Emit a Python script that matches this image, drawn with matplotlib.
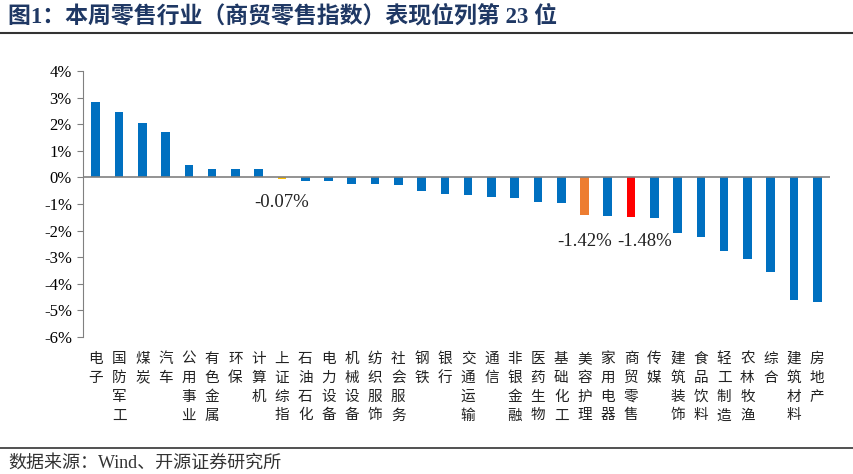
import matplotlib.pyplot as plt
import numpy as np

plt.rcParams['font.family'] = ['Liberation Serif', 'Noto Sans CJK SC']

industries = ["电子", "国防军工", "煤炭", "汽车", "公用事业", "有色金属", "环保", "计算机",
              "上证综指", "石油石化", "电力设备", "机械设备", "纺织服饰", "社会服务", "钢铁", "银行",
              "交通运输", "通信", "非银金融", "医药生物", "基础化工", "美容护理", "家用电器", "商贸零售",
              "传媒", "建筑装饰", "食品饮料", "轻工制造", "农林牧渔", "综合", "建筑材料", "房地产"]
returns = [2.85, 2.44, 2.03, 1.71, 0.45, 0.32, 0.32, 0.32,
           -0.07, -0.15, -0.15, -0.23, -0.25, -0.27, -0.53, -0.63,
           -0.66, -0.74, -0.78, -0.94, -0.98, -1.42, -1.46, -1.48,
           -1.52, -2.08, -2.25, -2.76, -3.06, -3.56, -4.60, -4.68]
labeled = {"上证综指": "-0.07%", "美容护理": "-1.42%", "商贸零售": "-1.48%"}

colors = []
for name in industries:
    if name == "上证综指":
        colors.append("#FFC000")
    elif name == "美容护理":
        colors.append("#ED7D31")
    elif name == "商贸零售":
        colors.append("#FF0000")
    else:
        colors.append("#0070C0")

fig = plt.figure(figsize=(8.54, 4.74), dpi=100)
ax = fig.add_axes([83 / 854, 1 - 337 / 474, (830 - 83) / 854, (337 - 71) / 474])

x = np.arange(len(industries))
ax.bar(x, returns, width=0.37, color=colors, zorder=2)
ax.axhline(0, color="#808080", lw=1.2, zorder=3)

ax.set_xlim(-0.55, len(industries) - 0.45)
ax.set_ylim(-6, 4)
ax.set_yticks(range(-6, 5))
ax.set_yticklabels([f"{v}%" for v in range(-6, 5)], fontsize=12)
ax.set_xticks([])
for s in ["top", "right", "bottom"]:
    ax.spines[s].set_visible(False)
ax.spines["left"].set_color("#808080")
ax.tick_params(axis="y", length=4, color="#808080", pad=4)

# vertical category labels
for i, name in enumerate(industries):
    ax.text(i, -6.55, "\n".join(name), ha="center", va="top", fontsize=10.5,
            family=["Noto Sans CJK SC"], linespacing=1.45, color="#222222")

# data labels
for i, name in enumerate(industries):
    if name in labeled:
        dx = 0.6 if name == "商贸零售" else 0
        ax.text(i + dx, -0.95 if name == "上证综指" else -2.4, labeled[name],
                ha="center", va="center", fontsize=13.5, color="#222222")

fig.text(8 / 854, 1 - 16 / 474, "图1：本周零售行业（商贸零售指数）表现位列第 23 位",
         fontsize=16.5, fontweight="bold", color="#1F3864", va="center", ha="left",
         family=["Liberation Serif", "Noto Sans CJK SC"])
fig.add_artist(plt.Line2D([0, 1], [1 - 33 / 474, 1 - 33 / 474], color="#333333", lw=1.5))
fig.add_artist(plt.Line2D([0, 1], [1 - 448 / 474, 1 - 448 / 474], color="#333333", lw=1.2))
fig.text(8 / 854, 1 - 463 / 474, "数据来源：Wind、开源证券研究所", fontsize=13, va="center",
         ha="left", color="#333333", family=["Liberation Serif", "Noto Sans CJK SC"])

fig.savefig("out.png", dpi=100)
